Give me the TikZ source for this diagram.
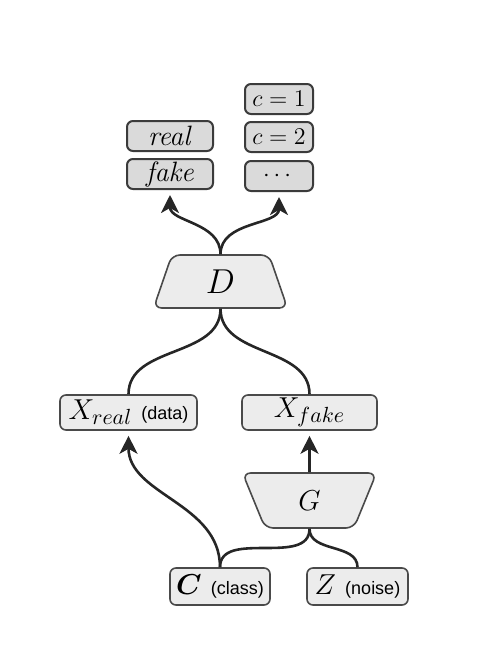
\documentclass[tikz,border=0pt]{standalone}
\usepackage{amsmath}
\usepackage{fontspec}
\setsansfont{Liberation Sans}
\usetikzlibrary{shapes.geometric,arrows.meta}
\definecolor{boxline}{HTML}{4A4A4A}
\definecolor{boxfill}{HTML}{ECECEC}
\definecolor{outfill}{HTML}{DADADA}
\begin{document}
\begin{tikzpicture}[x=0.5pt,y=-0.5pt,
  box/.style={draw=boxline, line width=0.8pt, fill=boxfill, rounded corners=3pt, inner sep=0pt},
  outbox/.style={box, draw=boxline!80!black, line width=1pt, fill=outfill, minimum height=15pt},
  trap/.style={trapezium, trapezium stretches=true, draw=boxline, line width=0.8pt,
    fill=boxfill, rounded corners=4pt, inner sep=0pt},
  link/.style={line width=1.3pt, black!85},
  arr/.style={link, -{Stealth[length=9pt,width=9pt,inset=2.5pt]}}]
\useasboundingbox (0,0) rectangle (480,664);
% outputs of the discriminator
\node [outbox, minimum width=43pt] (real) at (170,136) {\fontsize{14}{16}\selectfont\textit{real}};
\node [outbox, minimum width=43pt] (fake) at (170,174) {\fontsize{14}{16}\selectfont\textit{fake}};
\node [outbox, minimum width=34pt] (cone) at (279,99) {\fontsize{13}{15}\selectfont$c=1$};
\node [outbox, minimum width=34pt] (ctwo) at (279,137) {\fontsize{13}{15}\selectfont$c=2$};
\node [outbox, minimum width=34pt] (cdots) at (279,176) {\fontsize{13}{15}\selectfont$\cdots$};
% networks
\node [trap, trapezium left angle=77, trapezium right angle=77, minimum width=67pt, minimum height=26.5pt]
  (D) at (220.5,281.5) {\fontsize{16}{18}\selectfont$D$};
\node [trap, trapezium left angle=74, trapezium right angle=74, shape border rotate=180,
  minimum width=67pt, minimum height=27.5pt] (G) at (309.5,500.5) {\fontsize{14}{16}\selectfont$G$};
% samples
\node [box, minimum width=68.5pt, minimum height=17.5pt] (Xreal) at (128.5,412.5)
  {\fontsize{15}{17}\selectfont$X_{real}$ \textsf{\fontsize{9}{10}\selectfont(data)}};
\node [box, minimum width=67.5pt, minimum height=17.5pt] (Xfake) at (309.5,412.5)
  {\fontsize{15}{17}\selectfont$X_{fake}$};
% inputs
\node [box, minimum width=50pt, minimum height=18.5pt] (C) at (220,586.5)
  {\fontsize{14}{16}\selectfont$\boldsymbol{C}$ \textsf{\fontsize{9}{10}\selectfont(class)}};
\node [box, minimum width=50.5pt, minimum height=18.5pt] (Z) at (357.5,586.5)
  {\fontsize{14}{16}\selectfont$Z$ \textsf{\fontsize{9}{10}\selectfont(noise)}};
% connectors
\draw [arr, shorten >=2.5pt] (D.north) to[out=90,in=-90] (fake.south);
\draw [arr, shorten >=2.5pt] (D.north) to[out=90,in=-90] (cdots.south);
\draw [link] (D.south) to[out=-90,in=90] (Xreal.north);
\draw [link] (D.south) to[out=-90,in=90] (Xfake.north);
\draw [arr, shorten >=2.5pt] (C.north) to[out=90,in=-90] (Xreal.south);
\draw [arr, shorten >=2.5pt] (G.north) -- (Xfake.south);
\draw [link] (G.south) to[out=-90,in=90] (C.north);
\draw [link] (G.south) to[out=-90,in=90] (Z.north);
\end{tikzpicture}
\end{document}
